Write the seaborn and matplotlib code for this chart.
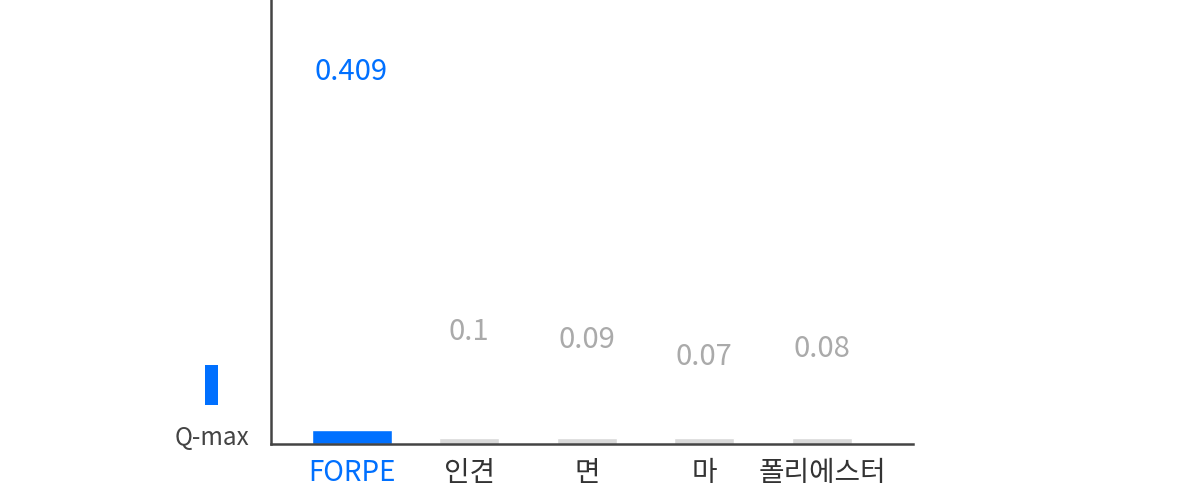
import matplotlib
matplotlib.use("Agg")
import matplotlib.pyplot as plt
from matplotlib.patches import Rectangle
import seaborn as sns
import pandas as pd

# ---- data ----
categories = ["FORPE", "인견", "면", "마", "폴리에스터"]
values = [0.409, 0.1, 0.09, 0.07, 0.08]          # labelled values
bar_shown = [0.0166, 0.0071, 0.0071, 0.0071, 0.0071]  # bar heights as drawn
value_labels = ["0.409", "0.1", "0.09", "0.07", "0.08"]
legend_label = "Q-max"

BLUE = "#0070FF"
GRAY_BAR = "#D9D9D9"
GRAY_TXT = "#AAAAAA"
DARK = "#333333"

sns.set_theme(style="white")
plt.rcParams["font.family"] = ["Noto Sans CJK KR", "DejaVu Sans"]

df = pd.DataFrame({"cat": categories, "shown": bar_shown, "value": values})

fig = plt.figure(figsize=(11.86, 4.99), dpi=100)
ax = fig.add_axes([271 / 1186, 55 / 499, (913 - 271) / 1186, 444 / 499])

sns.barplot(data=df.iloc[:1], x="cat", y="shown", order=categories,
            color=BLUE, width=80 / 117.6, ax=ax, saturation=1)
sns.barplot(data=df.iloc[1:], x="cat", y="shown", order=categories,
            color=GRAY_BAR, width=60 / 117.6, ax=ax, saturation=1)

ax.set_xlim(-0.685, 4.774)
ax.set_ylim(0, 0.5277)
ax.set_xlabel("")
ax.set_ylabel("")
ax.set_yticks([])
for s in ["top", "right"]:
    ax.spines[s].set_visible(False)
for s in ["left", "bottom"]:
    ax.spines[s].set_color("#444444")
    ax.spines[s].set_linewidth(1.8)
ax.tick_params(axis="x", length=0, pad=10)
ax.set_xticks(range(len(categories)))
ax.set_xticklabels(categories, fontsize=20, color=DARK, fontweight="light")
ax.get_xticklabels()[0].set_color(BLUE)
ax.get_xticklabels()[0].set_fontweight("normal")

for i, (v, lab) in enumerate(zip(values, value_labels)):
    ax.annotate(lab, xy=(i, v), xytext=(0, 20), textcoords="offset pixels",
                ha="center", va="baseline", fontsize=21,
                color=BLUE if i == 0 else GRAY_TXT,
                fontweight="normal" if i == 0 else "light")

# legend
fig.add_artist(Rectangle((205 / 1186, 1 - 405 / 499), 13 / 1186, 40 / 499,
                         transform=fig.transFigure, color=BLUE, lw=0))
fig.text(212 / 1186, 1 - 445 / 499, legend_label, ha="center", va="baseline",
         fontsize=17.5, color="#444444", fontweight="light")

fig.savefig("out.png", dpi=100)
